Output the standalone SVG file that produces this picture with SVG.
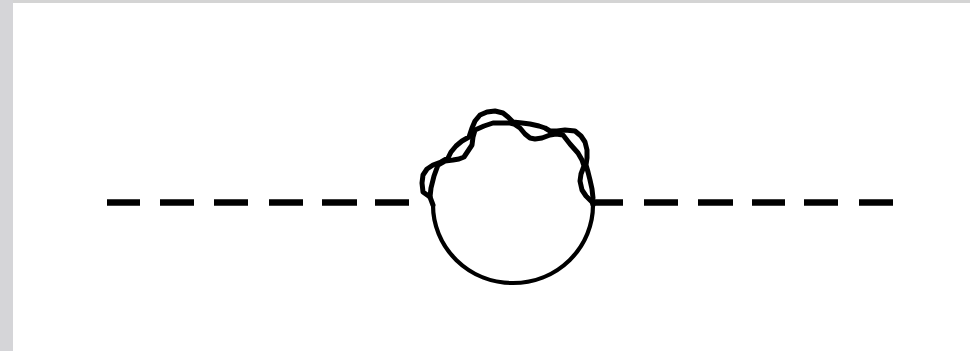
<svg xmlns="http://www.w3.org/2000/svg" width="970" height="351" viewBox="0 0 970 351">
<style>
.dash{fill:none;stroke:#000;stroke-width:6.5}
.loop{fill:none;stroke:#000;stroke-width:5;stroke-linejoin:round;stroke-linecap:round}
.arc{fill:none;stroke:#000;stroke-width:4.2}
</style>
<defs><filter id="soft" filterUnits="userSpaceOnUse" x="0" y="0" width="970" height="351"><feGaussianBlur stdDeviation="0.6"/></filter></defs>
<rect width="970" height="351" fill="#fff"/>
<rect width="970" height="3" fill="#d4d4d4"/>
<rect width="13" height="351" fill="#d5d5d8"/>
<g id="connectors" filter="url(#soft)">
<path class="dash" d="M107 202.500H140M160 202.500H194M214 202.500H248M269 202.500H303M322 202.500H357M375 202.500H409"/>
<path class="dash" d="M592 202.500H623M644 202.500H678M698 202.500H733M752 202.500H785M804 202.500H838M859 202.500H893"/>
</g>
<g id="loop" filter="url(#soft)">
<path class="arc" d="M593 205A80 78 0 0 1 433 205"/>
<path class="loop" d="M433 205L430 197L431 188L434 176L438 165L445 161L453 160L459 159L464 157L468 151L472 145L473 137L475 130L484 126L493 123L502 123L510 123L514 124L520 128L525 134L530 138L535 139L542 138L550 135L556 134L563 135L570 144L578 153L582 160L584 166L581 174L580 181L582 190L586 196L592 202L593 205"/>
<path class="loop" d="M430 197L423 192L422 183L423 175L427 169L433 165L441 162L448 158L451 152L456 146L462 141L469 137L472 128L475 121L480 115L487 112L495 111L503 113L508 117L513 122L522 123L530 124L539 126L545 128L550 131L557 131L565 130L575 131L581 136L585 142L587 150L587 158L586 165L588 172L590 180L592 189L593 198"/>
</g>
</svg>
